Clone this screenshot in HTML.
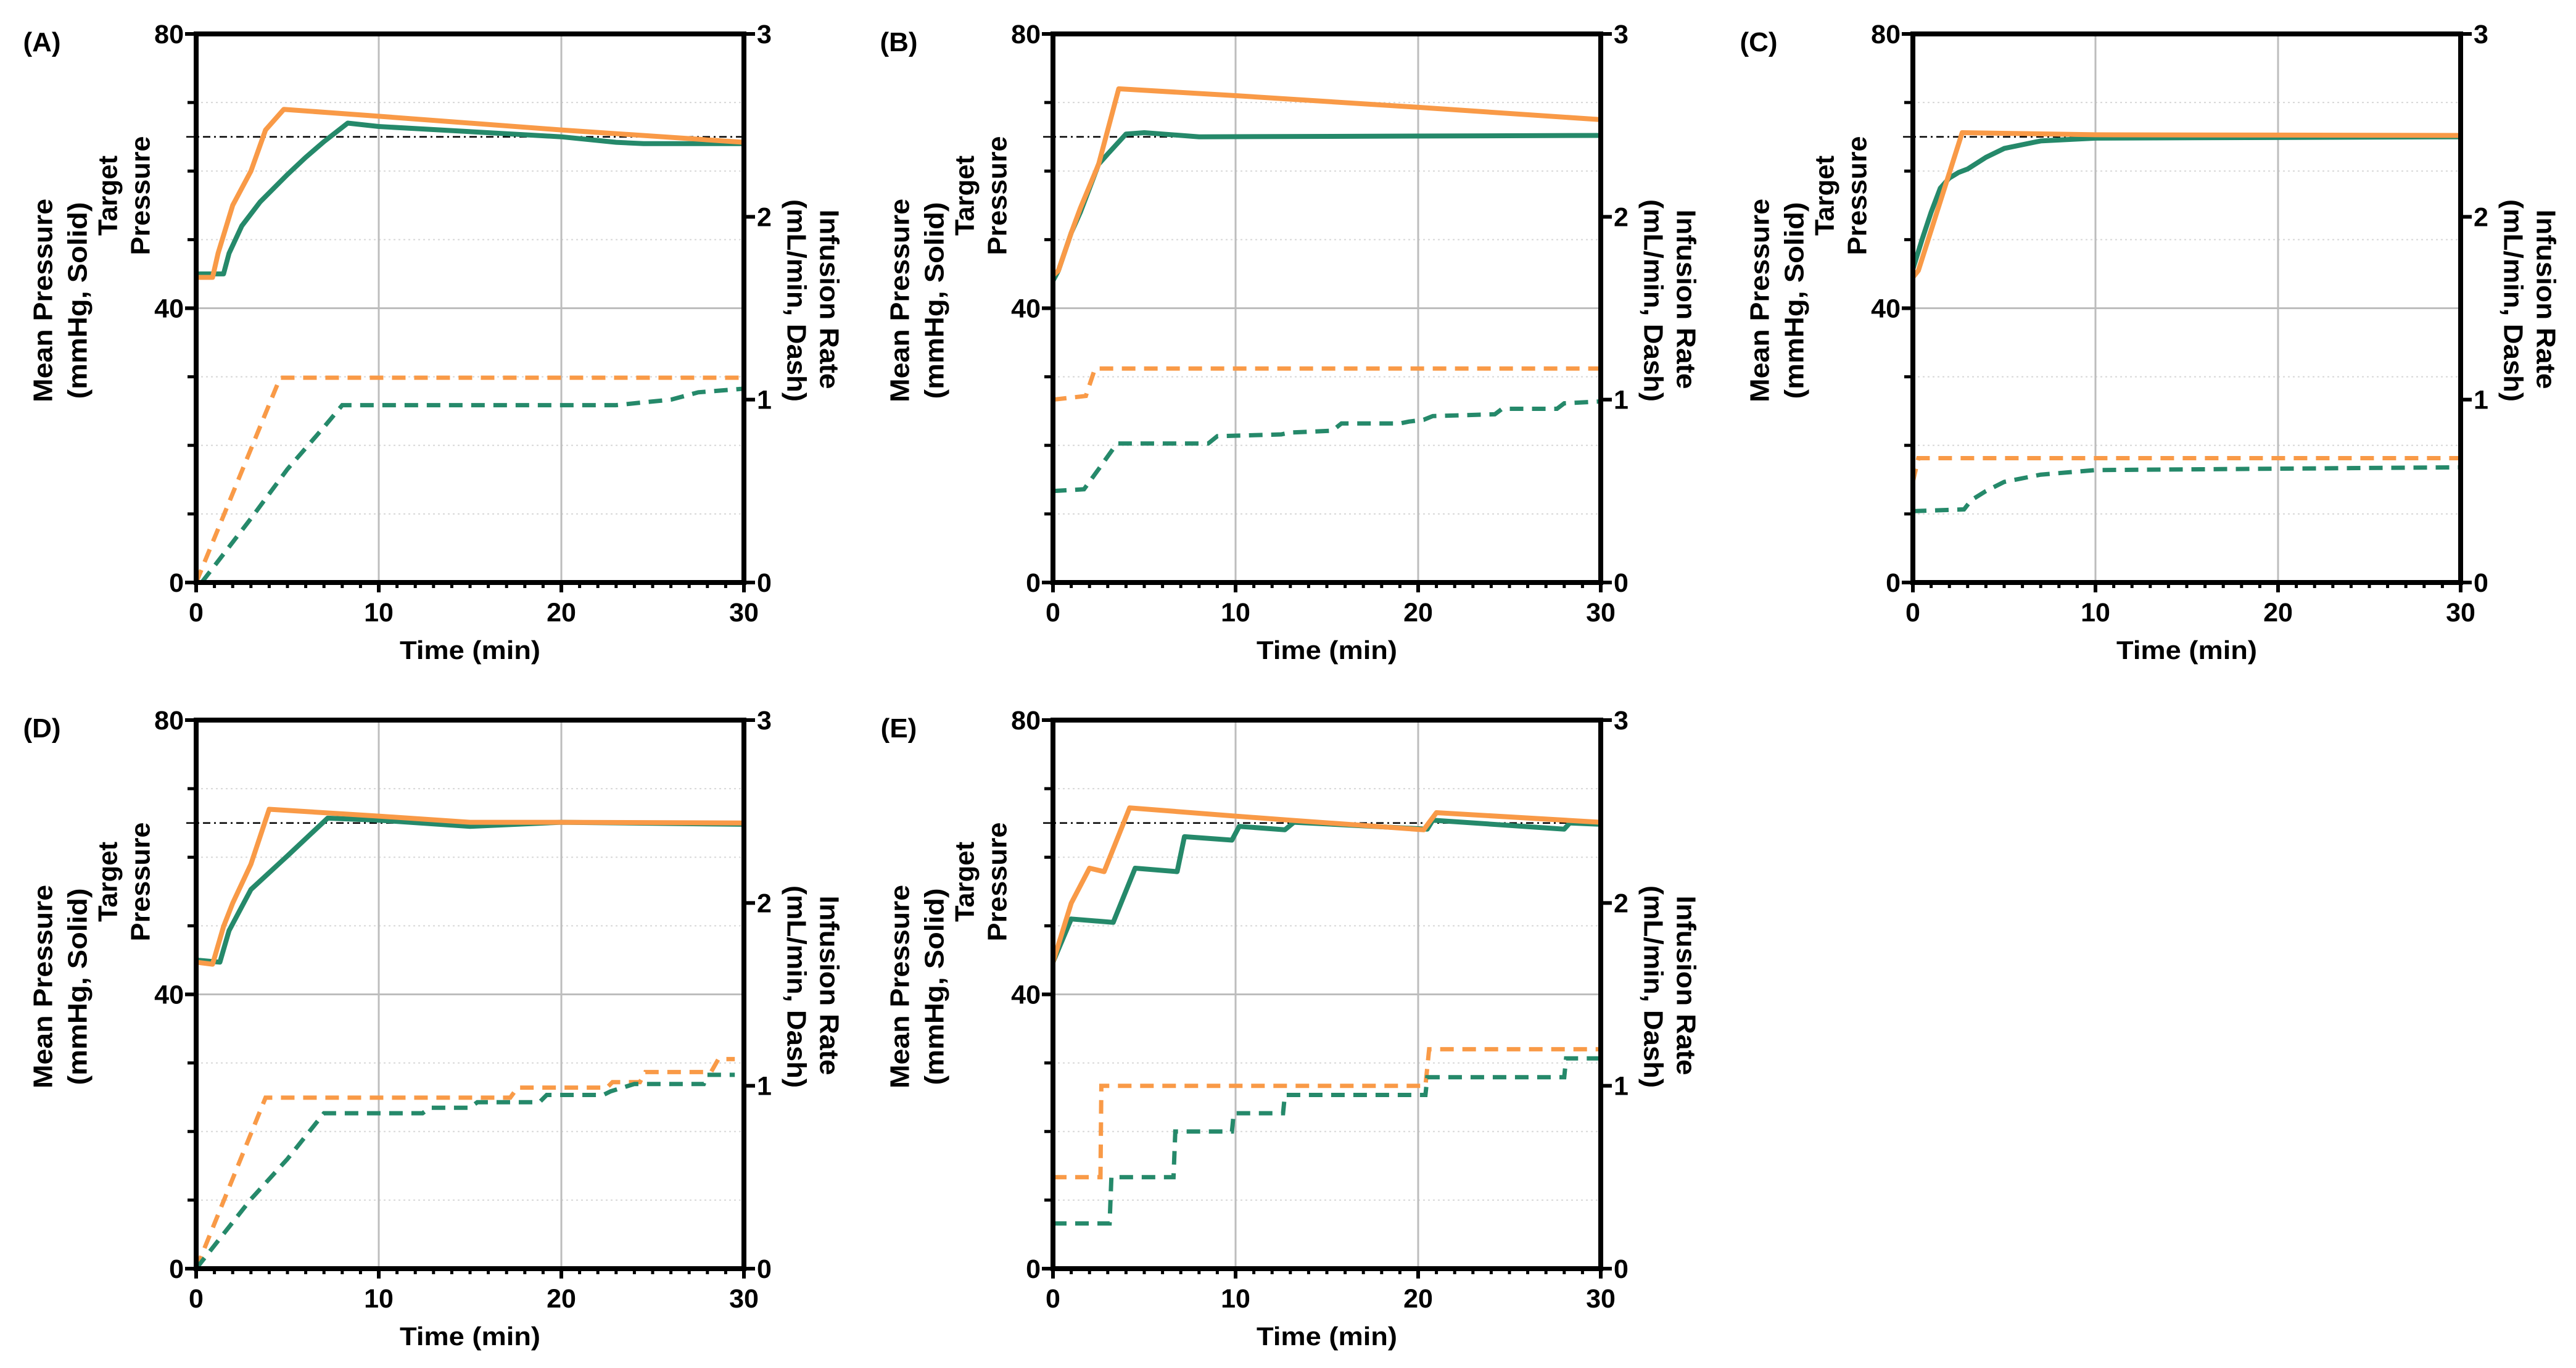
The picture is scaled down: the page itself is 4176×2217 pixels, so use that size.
<!DOCTYPE html>
<html><head><meta charset="utf-8"><style>
html,body{margin:0;padding:0;background:#fff}
svg{display:block}
text{font-family:"Liberation Sans",Arial,sans-serif;font-weight:bold;fill:#000}
</style></head><body>
<svg id="fig" xmlns="http://www.w3.org/2000/svg" width="4176" height="2217" viewBox="0 0 4176 2217"></svg>
<script>
// ---- data (time in min; solid in mmHg; dash in mL/min) ----
const panelLabels = ["(A)","(B)","(C)","(D)","(E)"];
const xTicks = [0,10,20,30];
const leftTicks = [0,40,80];
const rightTicks = [0,1,2,3];
const targetPressure = 65;

const aOrangeSolid = [[0,44.5],[0.9,44.5],[1.2,48],[2,55],[3,60],[3.8,66],[4.8,69],[10,68],[20,66],[30,64.2]];
const aGreenSolid = [[0,45],[1.5,45],[1.8,48],[2.5,52],[3.5,55.5],[5,59.5],[6,62],[7,64.3],[8.3,67],[10,66.5],[20,65],[23,64.2],[24.5,64],[30,64]];
const aOrangeDash = [[0,0],[4.6,1.12],[30,1.12]];
const aGreenDash = [[0.3,0],[3,0.35],[5,0.62],[7,0.85],[8,0.97],[23,0.97],[25,0.99],[26,1.0],[27.5,1.04],[30,1.06]];

const bOrangeSolid = [[0,44.8],[0.3,45.5],[1,51],[1.5,54.6],[2.5,61],[3.6,72],[10,71],[20,69.3],[30,67.5]];
const bGreenSolid = [[0,44],[0.3,45.5],[1,51],[1.5,54],[2.5,61],[3,62.5],[4,65.4],[5,65.6],[8,65],[30,65.2]];
const bOrangeDash = [[0,1.0],[1.8,1.02],[2.3,1.17],[30,1.17]];
const bGreenDash = [[0,0.5],[1.7,0.51],[2.5,0.62],[3.5,0.76],[8.5,0.76],[9,0.8],[12.5,0.81],[13,0.82],[15.3,0.83],[15.8,0.87],[19,0.87],[19.5,0.88],[20.3,0.89],[20.8,0.91],[24.2,0.92],[24.6,0.95],[27.6,0.95],[28,0.98],[30,0.99]];

const cOrangeSolid = [[0,44.5],[0.3,45.5],[2.7,65.6],[10,65.3],[30,65.2]];
const cGreenSolid = [[0,45.7],[0.5,50],[1,54],[1.5,57.5],[2,59],[2.5,59.8],[3,60.3],[4,62],[5,63.3],[7,64.4],[10,64.8],[30,65]];
const cOrangeDash = [[0,0.55],[0.3,0.68],[30,0.68]];
const cGreenDash = [[0,0.39],[2.8,0.4],[3.2,0.45],[4,0.5],[5,0.55],[7,0.59],[10,0.615],[30,0.63]];

const dOrangeSolid = [[0,44.7],[0.9,44.4],[1.5,49.9],[2,53.3],[3,59],[4,67],[10,66],[15,65.1],[20,65.1],[30,65]];
const dGreenSolid = [[0,45],[1.3,44.7],[1.8,49.3],[3,55.3],[5,60.2],[7.2,65.7],[10,65.4],[15,64.5],[20,65.1],[30,64.8]];
const dOrangeDash = [[0,0],[3.8,0.935],[17.2,0.935],[17.6,0.99],[22.5,0.99],[22.8,1.02],[24.3,1.02],[24.6,1.075],[28.2,1.075],[28.6,1.146],[29.5,1.146]];
const dGreenDash = [[0,0],[3,0.38],[5,0.6],[7,0.85],[12.4,0.85],[12.8,0.88],[15,0.88],[15.4,0.91],[18.8,0.91],[19.2,0.95],[22.3,0.95],[22.7,0.97],[24,1.01],[27.8,1.01],[28,1.06],[29.5,1.06]];

const eOrangeSolid = [[0,44.7],[1,53.3],[2,58.4],[2.8,57.9],[4.2,67.2],[10,66],[13,65.4],[20.3,64],[21,66.5],[30,65.1]];
const eGreenSolid = [[0,44.7],[1,51],[3.3,50.5],[4.5,58.4],[6.8,57.9],[7.2,63],[9.8,62.5],[10.2,64.5],[12.7,64],[13.2,65.1],[20.5,64.1],[20.8,65.4],[28,64.1],[28.3,65],[30,64.8]];
const eOrangeDash = [[0,0.5],[2.6,0.5],[2.65,1.0],[20.4,1.0],[20.6,1.2],[30,1.2]];
const eGreenDash = [[0,0.247],[3.1,0.247],[3.2,0.5],[6.6,0.5],[6.7,0.75],[9.8,0.75],[9.9,0.85],[12.6,0.85],[12.7,0.95],[20.4,0.95],[20.5,1.047],[28,1.047],[28.1,1.15],[30,1.15]];

const panelSeries = [
  [aOrangeSolid,aGreenSolid,aOrangeDash,aGreenDash],
  [bOrangeSolid,bGreenSolid,bOrangeDash,bGreenDash],
  [cOrangeSolid,cGreenSolid,cOrangeDash,cGreenDash],
  [dOrangeSolid,dGreenSolid,dOrangeDash,dGreenDash],
  [eOrangeSolid,eGreenSolid,eOrangeDash,eGreenDash]
];

// ---- layout ----
const NS="http://www.w3.org/2000/svg";
const svg=document.getElementById('fig');
const layout=[{l:318,t:55},{l:1707,t:55},{l:3101,t:55},{l:318,t:1167},{l:1707,t:1167}];
const W=888,H=889;
const ORANGE="#F99A47",GREEN="#25896A";
function mk(tag,attrs,parent){const e=document.createElementNS(NS,tag);for(const k in attrs)e.setAttribute(k,attrs[k]);(parent||svg).appendChild(e);return e;}

layout.forEach((p,i)=>{
  const g=mk('g',{});
  
  
  const x=t=>p.l+t/30*W;
  const yl=v=>p.t+H-v/80*H;
  const yr=v=>p.t+H-v/3*H;
  // minor dotted grid
  [10,20,30,50,60,70].forEach(v=>{const ln=mk('line',{x1:p.l,x2:p.l+W,y1:yl(v),y2:yl(v),stroke:'#d8d8d8','stroke-width':2,'stroke-dasharray':'3 5'},g);
    
    });
  [10,20].forEach(t=>{const ln=mk('line',{x1:x(t),x2:x(t),y1:p.t,y2:p.t+H,stroke:'#bdbdbd','stroke-width':3},g);
    
    });
  const hg=mk('line',{x1:p.l,x2:p.l+W,y1:yl(40),y2:yl(40),stroke:'#bdbdbd','stroke-width':3},g);
  
  
  // target line
  const tl=mk('line',{x1:p.l-16,x2:p.l+W,y1:yl(targetPressure),y2:yl(targetPressure),stroke:'#000','stroke-width':2.5,'stroke-dasharray':'12 6 3 6'},g);
  
  
  // series
  const [os,gs,od,gd]=panelSeries[i];
  const path=(pts,yf)=>pts.map((q,k)=>(k?'L':'M')+x(q[0]).toFixed(1)+' '+yf(q[1]).toFixed(1)).join(' ');
  const s1=mk('path',{d:path(od,yr),fill:'none',stroke:ORANGE,'stroke-width':7,'stroke-dasharray':'22 14'},g);
  
  
  const s2=mk('path',{d:path(gd,yr),fill:'none',stroke:GREEN,'stroke-width':7,'stroke-dasharray':'22 14'},g);
  
  
  const s3=mk('path',{d:path(gs,yl),fill:'none',stroke:GREEN,'stroke-width':8,'stroke-linejoin':'round'},g);
  
  
  const s4=mk('path',{d:path(os,yl),fill:'none',stroke:ORANGE,'stroke-width':8,'stroke-linejoin':'round'},g);
  
  
  // frame
  const fr=mk('rect',{x:p.l,y:p.t,width:W,height:H,fill:'none',stroke:'#000','stroke-width':8},g);
  
  
  // left ticks
  for(let v=0;v<=80;v+=10){const major=v%40===0;const tk=mk('line',{x1:p.l-(major?18:14),x2:p.l,y1:yl(v),y2:yl(v),stroke:'#000','stroke-width':major?6:5},g);
    
    }
  leftTicks.forEach(v=>{const t=mk('text',{x:p.l-20,y:yl(v)+15,'text-anchor':'end','font-size':43},g);t.textContent=v;
    
    });
  rightTicks.forEach(v=>{const tk=mk('line',{x1:p.l+W,x2:p.l+W+18,y1:yr(v),y2:yr(v),stroke:'#000','stroke-width':6},g);
    
    
    const t=mk('text',{x:p.l+W+21,y:yr(v)+15,'font-size':43},g);t.textContent=v;
    
    });
  for(let t=0;t<=30;t++){const major=t%10===0;const tk=mk('line',{x1:x(t),x2:x(t),y1:p.t+H,y2:p.t+H+(major?16:9),stroke:'#000','stroke-width':major?6:5},g);
    
    }
  xTicks.forEach(t=>{const tx=mk('text',{x:x(t),y:p.t+H+63,'text-anchor':'middle','font-size':43},g);tx.textContent=t;
    
    });
  const xt=mk('text',{x:p.l+W/2,y:p.t+H+124,'text-anchor':'middle','font-size':42,textLength:228,lengthAdjust:'spacingAndGlyphs'},g);xt.textContent='Time (min)';
  
  
  // panel letter
  const pl=mk('text',{x:p.l-250,y:p.t+28,'text-anchor':'middle','font-size':44},g);pl.textContent=panelLabels[i];
  
  
  // rotated titles
  const rot=(txt,cx,cy,len,deg,name)=>{const t=mk('text',{x:0,y:0,'text-anchor':'middle','font-size':44,textLength:len,lengthAdjust:'spacingAndGlyphs',transform:`translate(${cx},${cy}) rotate(${deg})`,'dominant-baseline':'central'},g);t.textContent=txt;
    
    };
  rot('Mean Pressure',p.l-248,p.t+432,330,-90,'y-axis-title-line1');
  rot('(mmHg,  Solid)',p.l-192,p.t+432,319,-90,'y-axis-title-line2');
  rot('Target',p.l-143,p.t+262,130,-90,'target-pressure-label-line1');
  rot('Pressure',p.l-90,p.t+262,193,-90,'target-pressure-label-line2');
  rot('(mL/min, Dash)',p.l+W+85,p.t+432,328,90,'right-axis-title-line2');
  rot('Infusion Rate',p.l+W+138,p.t+430,291,90,'right-axis-title-line1');
});
</script>
</body></html>
